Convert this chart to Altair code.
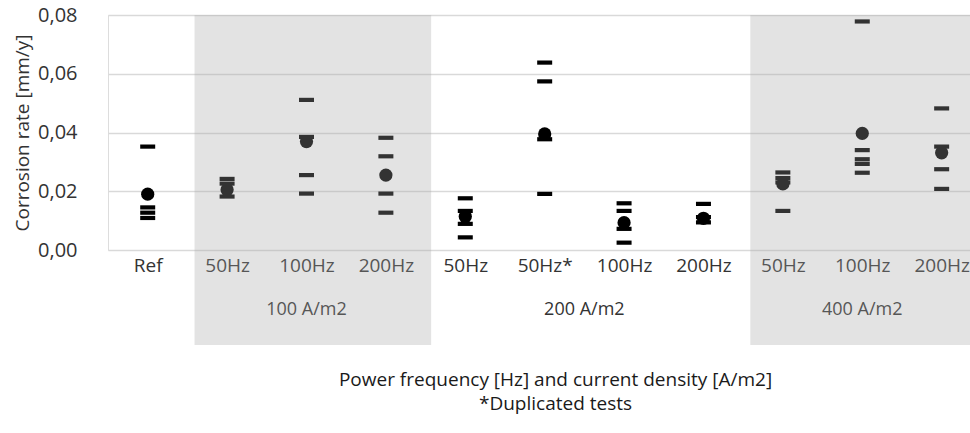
import altair as alt
import pandas as pd

# ---------------- data ----------------
categories = ["Ref", "50Hz", "100Hz", "200Hz", "50Hz", "50Hz*", "100Hz", "200Hz",
              "50Hz", "100Hz", "200Hz"]
groups = ["100 A/m2", "200 A/m2", "400 A/m2"]
group_first = [1, 4, 8]
group_last = [3, 7, 10]
shaded = [True, False, True]

# individual test results (dashes), one list per category
test_values = [
    [0.0352, 0.0145, 0.0127, 0.0109],
    [0.0242, 0.0226, 0.0182],
    [0.0511, 0.0385, 0.0255, 0.0192],
    [0.0382, 0.0319, 0.0192, 0.0127],
    [0.0176, 0.0133, 0.0089, 0.0043],
    [0.0638, 0.0574, 0.0377, 0.0191],
    [0.0159, 0.0133, 0.0072, 0.0025],
    [0.0157, 0.0112, 0.0094],
    [0.0264, 0.0245, 0.0230, 0.0133],
    [0.0778, 0.0340, 0.0309, 0.0293, 0.0263],
    [0.0482, 0.0352, 0.0275, 0.0208],
]
# average value (dots)
mean_values = [0.0190, 0.0205, 0.0369, 0.0255, 0.0114, 0.0395, 0.0093, 0.0108,
               0.0225, 0.0397, 0.0331]
y_ticks = [0.0, 0.02, 0.04, 0.06, 0.08]

# ---------------- tables ----------------
tests = pd.DataFrame(
    [{"pos": i, "value": v} for i, vals in enumerate(test_values) for v in vals]
)
means = pd.DataFrame({"pos": list(range(len(categories))), "value": mean_values})
grp = pd.DataFrame({
    "label": groups,
    "center": [(a + b) / 2 for a, b in zip(group_first, group_last)],
    "start": [a - 0.41 for a in group_first],
    "end": [b + 0.57 for b in group_last],
    "shaded": shaded,
})
shade = grp[grp["shaded"]]

XMAX = 10.357
xscale = alt.Scale(domain=[-0.5, XMAX], clamp=True, nice=False, zero=False)
yscale = alt.Scale(domain=[0, 0.08], nice=False)

FONT = "Open Sans"
TXT = "#333333"

base = alt.Chart(tests)

dashes = base.mark_point(
    shape="M-1,-0.28H1V0.28H-1Z", filled=True, size=225, color="#000000", opacity=1
).encode(
    x=alt.X("pos:Q", scale=xscale,
            axis=alt.Axis(values=list(range(len(categories))),
                          labelExpr="[" + ",".join("'" + c + "'" for c in categories) + "][datum.value]",
                          labelFont=FONT, labelFontSize=19, labelColor=TXT,
                          labelPadding=6, ticks=False, domain=False, grid=False,
                          title=["Power frequency [Hz] and current density [A/m2]",
                                 "*Duplicated tests"],
                          titleFont=FONT, titleFontSize=19, titleFontWeight="normal",
                          titleColor="#1a1a1a", titleX=447, titleY=120,
                          titleLineHeight=24)),
    y=alt.Y("value:Q", scale=yscale,
            axis=alt.Axis(values=y_ticks,
                          labelExpr="replace(format(datum.value, '.2f'), '.', ',')",
                          labelFont=FONT, labelFontSize=20, labelColor=TXT,
                          labelPadding=31, ticks=False, domain=False,
                          gridColor="#d9d9d9", gridWidth=1.3,
                          title="Corrosion rate [mm/y]", titleFont=FONT,
                          titleFontSize=19, titleFontWeight="normal",
                          titleColor=TXT, titlePadding=5)),
)

dots = alt.Chart(means).mark_circle(size=175, color="#000000", opacity=1).encode(
    x=alt.X("pos:Q", scale=xscale),
    y=alt.Y("value:Q", scale=yscale),
)

group_text = alt.Chart(grp).mark_text(
    font=FONT, fontSize=18, color=TXT, baseline="middle"
).encode(
    x=alt.X("center:Q", scale=xscale),
    y=alt.value(295),
    text="label:N",
)

overlay = alt.Chart(shade).mark_rect(color="#a5a5a5", opacity=0.31).encode(
    x=alt.X("start:Q", scale=xscale),
    x2="end:Q",
    y=alt.value(0),
    y2=alt.value(330),
)

chart = alt.layer(dashes, dots, group_text, overlay).properties(
    width=862, height=235,
    autosize=alt.AutoSizeParams(type="none"),
    padding={"left": 108, "top": 15, "right": 0, "bottom": 183},
).configure_view(stroke=None).configure(background="white")

chart.save("out.html", embed_options={"renderer": "svg", "actions": False})
